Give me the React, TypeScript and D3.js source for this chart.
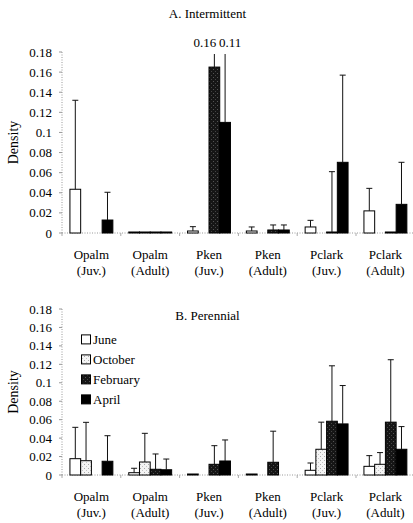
import React from "react";
import * as d3 from "d3";

const species = ["Opalm", "Opalm", "Pken", "Pken", "Pclark", "Pclark"];
const stages = ["(Juv.)", "(Adult)", "(Juv.)", "(Adult)", "(Juv.)", "(Adult)"];
const categories = species.map((s, i) => `${s} ${stages[i]}`);
const seasons = ["June", "October", "February", "April"];
const yTicks = [0, 0.02, 0.04, 0.06, 0.08, 0.1, 0.12, 0.14, 0.16, 0.18];

// A. Intermittent: means and upper ends of error bars (null = no bar)
const intJune = [0.0435, 0.0005, 0.002, 0.002, 0.006, 0.022];
const intJuneErr = [0.132, null, 0.0063, 0.006, 0.0126, 0.0444];
const intOct = [0, 0.0005, 0, 0, 0, 0];
const intOctErr = [null, null, null, null, null, null];
const intFeb = [0, 0.0005, 0.165, 0.003, 0.0005, 0.001];
const intFebErr = [null, null, 0.25, 0.008, 0.061, null];
const intApr = [0.0129, 0.0005, 0.11, 0.003, 0.0703, 0.0285];
const intAprErr = [0.0405, null, 0.2, 0.008, 0.157, 0.0703];
const intLabels = ["0.16", "0.11"];

// B. Perennial
const perJune = [0.0177, 0.0025, 0.001, 0.001, 0.0051, 0.0094];
const perJuneErr = [0.0517, 0.0073, null, null, 0.013, 0.021];
const perOct = [0.0155, 0.0141, 0, 0, 0.0279, 0.0116];
const perOctErr = [0.0571, 0.0452, null, null, 0.0573, 0.0243];
const perFeb = [0, 0.0062, 0.0116, 0.0138, 0.0583, 0.0573];
const perFebErr = [null, 0.0228, 0.0318, 0.0475, 0.1184, 0.125];
const perApr = [0.0149, 0.0057, 0.0152, 0, 0.0554, 0.0279];
const perAprErr = [0.0426, 0.0173, 0.038, null, 0.097, 0.0525];

const FONT = "Liberation Serif, Times New Roman, DejaVu Serif, serif";
const fills = ["#ffffff", "url(#patOct)", "url(#patFeb)", "#000000"];

const W = 413;
const H = 523;
const X0 = 62;
const X1 = 414.8;

const xCat = d3
  .scaleBand<string>()
  .domain(categories)
  .range([X0, X1])
  .paddingInner(0.27)
  .paddingOuter(0.135);
const xSeason = d3
  .scaleBand<string>()
  .domain(seasons)
  .range([0, xCat.bandwidth()]);

type PanelProps = {
  title: string;
  titleY: number;
  y0: number;
  y1: number;
  means: number[][];
  errs: (number | null)[][];
  legend?: boolean;
  topLabels?: string[];
};

const txt = { fontFamily: FONT, fontSize: "13px" };

function Panel({ title, titleY, y0, y1, means, errs, legend, topLabels }: PanelProps) {
  const yMax = 0.18;
  const y = d3.scaleLinear().domain([0, yMax]).range([y0, y1]);
  const bw = xSeason.bandwidth();
  const cap = 3;
  const bounds = categories.map((c) => (xCat(c) as number) - (xCat.step() * xCat.paddingInner()) / 2);
  bounds.push(X1);
  return (
    <g>
      <text x={207.5} y={titleY} textAnchor="middle" style={txt}>
        {title}
      </text>
      {/* y axis */}
      <line x1={X0} x2={X0} y1={y(yMax)} y2={y(0)} stroke="#999" strokeDasharray="1,1.5" />
      {yTicks.map((t) => (
        <g key={t}>
          <line x1={X0 - 3} x2={X0} y1={y(t)} y2={y(t)} stroke="#999" />
          <text x={X0 - 10} y={y(t)} dy="0.35em" textAnchor="end" style={txt}>
            {d3.format("")(t)}
          </text>
        </g>
      ))}
      <text
        transform={`translate(18,${(y(0) + y(yMax)) / 2}) rotate(-90)`}
        textAnchor="middle"
        style={{ fontFamily: FONT, fontSize: "14px" }}
      >
        Density
      </text>
      {/* x axis */}
      <line x1={X0} x2={X1} y1={y(0)} y2={y(0)} stroke="#999" strokeDasharray="1,1.5" />
      {bounds.map((b, i) => (
        <line key={i} x1={b} x2={b} y1={y(0)} y2={y(0) + 3} stroke="#aaa" />
      ))}
      {categories.map((c, i) => {
        const cx = (xCat(c) as number) + xCat.bandwidth() / 2;
        return (
          <g key={c}>
            <text x={cx} y={y(0) + 26} textAnchor="middle" style={txt}>
              {species[i]}
            </text>
            <text x={cx} y={y(0) + 42} textAnchor="middle" style={txt}>
              {stages[i]}
            </text>
          </g>
        );
      })}
      {/* bars */}
      {seasons.map((s, si) =>
        categories.map((c, ci) => {
          const v = means[si][ci];
          if (!(v > 0)) return null;
          const x = (xCat(c) as number) + (xSeason(s) as number);
          const top = Math.min(y(Math.min(v, yMax)), y(0) - 1);
          return (
            <rect
              key={`${s}-${c}`}
              x={x}
              y={top}
              width={bw}
              height={y(0) - top}
              fill={fills[si]}
              stroke="#000"
              strokeWidth={1}
            />
          );
        })
      )}
      {/* error bars */}
      {seasons.map((s, si) =>
        categories.map((c, ci) => {
          const e = errs[si][ci];
          if (e == null) return null;
          const v = means[si][ci];
          const cx = (xCat(c) as number) + (xSeason(s) as number) + bw / 2;
          const clipped = e > yMax;
          const ye = clipped ? y(yMax) + 2 : y(e);
          return (
            <g key={`e-${s}-${c}`} stroke="#111" strokeWidth={1}>
              <line x1={cx} x2={cx} y1={y(v)} y2={ye} />
              {!clipped && <line x1={cx - cap} x2={cx + cap} y1={ye} y2={ye} />}
            </g>
          );
        })
      )}
      {topLabels && (
        <g>
          <text
            x={(xCat(categories[2]) as number) + (xSeason("February") as number) + bw / 2 + 2}
            y={y(yMax) - 5}
            textAnchor="end"
            style={txt}
          >
            {topLabels[0]}
          </text>
          <text
            x={(xCat(categories[2]) as number) + (xSeason("April") as number) + bw / 2 - 6}
            y={y(yMax) - 5}
            textAnchor="start"
            style={txt}
          >
            {topLabels[1]}
          </text>
        </g>
      )}
      {legend && (
        <g>
          {seasons.map((s, i) => {
            const ly = y(0.14) - 6 + i * 20;
            return (
              <g key={s}>
                <rect x={81.5} y={ly - 5} width={9} height={9} fill={fills[i]} stroke="#000" />
                <text x={93} y={ly} dy="0.35em" style={txt}>
                  {s}
                </text>
              </g>
            );
          })}
        </g>
      )}
    </g>
  );
}

export default function App() {
  return (
    <svg
      width={W}
      height={H}
      style={{ position: "absolute", left: 0, top: 0, background: "#fff" }}
    >
      <defs>
        <pattern id="patOct" width="4" height="4" patternUnits="userSpaceOnUse">
          <rect width="4" height="4" fill="#f4f4f4" />
          <rect x="0" y="0" width="1" height="1" fill="#aaa" />
          <rect x="2" y="2" width="1" height="1" fill="#c4c4c4" />
        </pattern>
        <pattern id="patFeb" width="4" height="4" patternUnits="userSpaceOnUse">
          <rect width="4" height="4" fill="#161616" />
          <rect x="1" y="1" width="1" height="1" fill="#555" />
          <rect x="3" y="3" width="1" height="1" fill="#444" />
        </pattern>
      </defs>
      <rect width={W} height={H} fill="#fff" />
      <Panel
        title="A. Intermittent"
        titleY={18}
        y0={233}
        y1={52}
        means={[intJune, intOct, intFeb, intApr]}
        errs={[intJuneErr, intOctErr, intFebErr, intAprErr]}
        topLabels={intLabels}
      />
      <Panel
        title="B. Perennial"
        titleY={320}
        y0={475}
        y1={309}
        means={[perJune, perOct, perFeb, perApr]}
        errs={[perJuneErr, perOctErr, perFebErr, perAprErr]}
        legend
      />
    </svg>
  );
}
